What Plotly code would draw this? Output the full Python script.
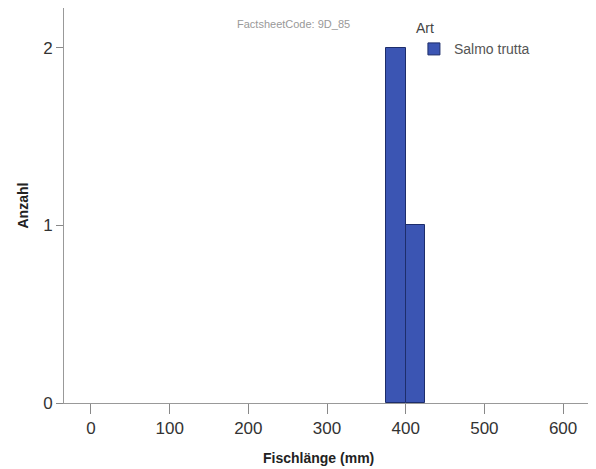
import plotly.graph_objects as go

bin_starts = [375, 400]
bin_width = 25
counts = [2, 1]
series_name = "Salmo trutta"
x_ticks = [0, 100, 200, 300, 400, 500, 600]
y_ticks = [0, 1, 2]

centers = [b + bin_width / 2 for b in bin_starts]

fig = go.Figure()
fig.add_trace(go.Bar(
    x=centers, y=counts, width=[bin_width] * len(counts),
    name=series_name,
    marker=dict(color="#3b55b3", line=dict(color="#1d2d6b", width=1)),
    showlegend=True,
))

fig.update_layout(
    width=588, height=461,
    margin=dict(l=56, r=5, t=0, b=66),
    paper_bgcolor="white", plot_bgcolor="white",
    font=dict(family="Liberation Sans, Arial, sans-serif", color="#333333"),
    bargap=0,
    xaxis=dict(
        range=[-34.3, 635.5], tickvals=x_ticks, ticks="outside", ticklen=10,
        tickcolor="#888888", showline=True, linecolor="#999999", linewidth=1,
        showgrid=False, zeroline=False, tickfont=dict(size=17, color="#333333"),
    ),
    yaxis=dict(
        range=[0, 2.225], tickvals=y_ticks, ticks="outside", ticklen=7,
        tickcolor="#888888", showline=True, linecolor="#999999", linewidth=1,
        showgrid=False, zeroline=False, tickfont=dict(size=17, color="#333333"),
    ),
    legend=dict(
        x=0.664, y=0.982, xanchor="left", yanchor="top",
        title=dict(text="Art", side="top", font=dict(size=14, color="#444444")),
        font=dict(size=14, color="#555555"),
        bgcolor="rgba(0,0,0,0)", itemwidth=30,
    ),
    annotations=[
        dict(
            text="FactsheetCode: 9D_85", x=0.324, y=1.0, xref="paper", yref="paper",
            xanchor="left", yanchor="top", yshift=-8, showarrow=False,
            font=dict(size=11, color="#999999"),
        ),
        dict(
            text="<b>Fischlänge (mm)</b>", x=0.482, y=0, xref="paper", yref="paper",
            xanchor="center", yanchor="middle", yshift=-55, showarrow=False,
            font=dict(size=14, color="#222222"),
        ),
        dict(
            text="<b>Anzahl</b>", x=0, y=0.5, xref="paper", yref="paper",
            xanchor="center", yanchor="middle", xshift=-42, textangle=-90,
            showarrow=False, font=dict(size=14, color="#222222"),
        ),
    ],
)

fig.write_html("out.html")
